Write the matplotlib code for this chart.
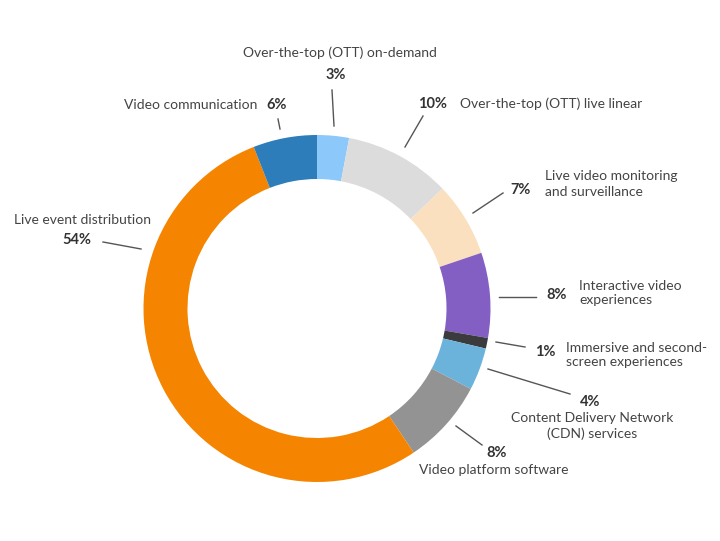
import numpy as np
import matplotlib.pyplot as plt

W, H = 720, 541

segments = ["Over-the-top (OTT) on-demand", "Over-the-top (OTT) live linear",
            "Live video monitoring\nand surveillance", "Interactive video\nexperiences",
            "Immersive and second-\nscreen experiences", "Content Delivery Network\n(CDN) services",
            "Video platform software", "Live event distribution", "Video communication"]
shares = [3, 10, 7, 8, 1, 4, 8, 54, 6]
colors = ["#8cc8fa", "#dcdcdc", "#fbe0c0", "#845fc3", "#3b3b3d",
          "#6bb3db", "#939393", "#f58500", "#2c7dba"]

# label layout in pixel coords (y from top)
# (pct_xy, pct_ha, name_xy, name_ha, leader_start, leader_end)
layout = [
    ((336, 75), "center", (340, 53), "center", (334, 126), (332, 90)),
    ((433, 104), "center", (460, 104), "left", (405, 147), (423, 116)),
    ((521, 190), "center", (545, 184), "left", (473, 213), (503, 193)),
    ((557, 295), "center", (579, 293), "left", (499, 297), (536, 297)),
    ((545, 352), "center", (566, 355), "left", (496, 342), (525, 347)),
    ((590, 402), "center", (592, 426), "center", (488, 369), (570, 394)),
    ((497, 453), "center", (494, 470), "center", (456, 426), (482, 445)),
    ((77, 240), "center", (14, 220), "left", (141, 249), (103, 242)),
    ((277, 105), "center", (257, 105), "right", (280, 129), (278, 119)),
]

plt.rcParams['font.family'] = ['Lato', 'DejaVu Sans']

fig = plt.figure(figsize=(W / 100, H / 100), dpi=100)
ax = fig.add_axes([0, 0, 1, 1])

cx, cy, r_out = 317, 308.5, 173.5
ax.pie(shares, colors=colors, startangle=90, counterclock=False,
       radius=r_out, center=(cx, H - cy),
       wedgeprops=dict(width=44, edgecolor='none'))

for (pxy, pha, nxy, nha, s, e), name, v in zip(layout, segments, shares):
    ax.plot([s[0], e[0]], [H - s[1], H - e[1]], color="#555555", lw=1)
    ax.text(pxy[0], H - pxy[1], f"{v}%", ha=pha, va="center",
            fontsize=10.5, fontweight="bold", color="#333333")
    ax.text(nxy[0], H - nxy[1], name, ha=nha, va="center",
            fontsize=10, color="#444444", linespacing=1.3,
            multialignment="left" if nha != "center" else "center")

ax.set_xlim(0, W)
ax.set_ylim(0, H)
ax.set_aspect('equal')
ax.axis('off')

fig.savefig("out.png", dpi=100)
